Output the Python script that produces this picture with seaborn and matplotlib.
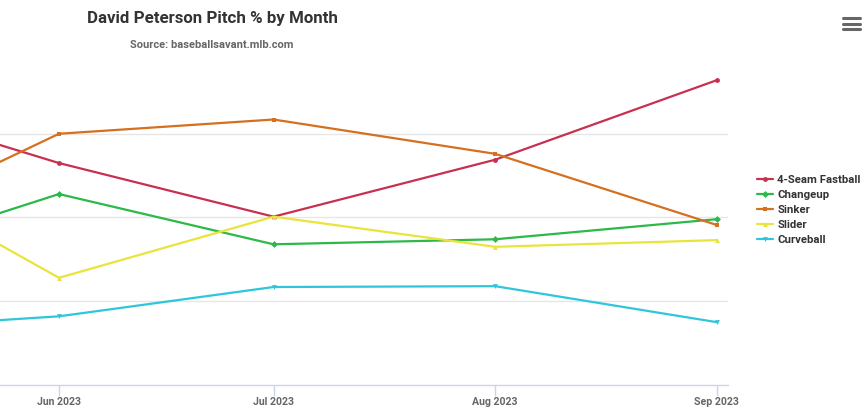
import matplotlib
matplotlib.use("Agg")
import matplotlib.pyplot as plt
import matplotlib.dates as mdates
from matplotlib.lines import Line2D
import pandas as pd
import seaborn as sns

months = ["2023-05-01", "2023-06-01", "2023-07-01", "2023-08-01", "2023-09-01"]
pitches = ["4-Seam Fastball", "Changeup", "Sinker", "Slider", "Curveball"]
fastball = [34.6, 26.5, 20.1, 26.9, 36.4]
changeup = [14.3, 22.8, 16.8, 17.4, 19.8]
sinker = [17.4, 30.0, 31.7, 27.6, 19.1]
slider = [27.6, 12.8, 20.1, 16.5, 17.3]
curveball = [6.5, 8.2, 11.7, 11.8, 7.5]

colors = {"4-Seam Fastball": "#c8304f", "Changeup": "#2db84a", "Sinker": "#d4701f",
          "Slider": "#e9e43a", "Curveball": "#2fc6dc"}
markers = {"4-Seam Fastball": "o", "Changeup": "D", "Sinker": "s",
           "Slider": "^", "Curveball": "v"}

rows = []
for name, vals in zip(pitches, [fastball, changeup, sinker, slider, curveball]):
    for m, v in zip(months, vals):
        rows.append({"month": pd.Timestamp(m), "pct": v, "pitch": name})
df = pd.DataFrame(rows)

sns.set_style("white")
plt.rcParams["font.family"] = ["Roboto", "DejaVu Sans"]

fig = plt.figure(figsize=(8.64, 4.11), dpi=100)
ax = fig.add_axes([0.0, 26 / 411, 728 / 864, 335 / 411])

sns.lineplot(data=df, x="month", y="pct", hue="pitch", style="pitch",
             hue_order=pitches, style_order=pitches, palette=colors,
             markers=markers, dashes=False, linewidth=1.6, markersize=3.5,
             markeredgewidth=0, ax=ax)

ax.set_xlim(pd.Timestamp("2023-06-01") - pd.Timedelta(days=8.25),
            pd.Timestamp("2023-09-01") + pd.Timedelta(days=1.55))
ax.set_ylim(0, 40)
ax.set_yticks([10, 20, 30])
ax.yaxis.grid(True, color="#e6e6e6", linewidth=1)
ax.tick_params(axis="y", left=False, labelleft=False)
ax.set_xticks([pd.Timestamp(m) for m in months[1:]])
ax.xaxis.set_major_formatter(mdates.DateFormatter("%b %Y"))
ax.tick_params(axis="x", bottom=True, length=8, color="#ccd6eb", width=1,
               labelsize=7.6, labelcolor="#666666", pad=0.5)
for lab in ax.get_xticklabels():
    lab.set_fontweight("bold")
ax.set_xlabel("")
ax.set_ylabel("")
for s in ["top", "right", "left"]:
    ax.spines[s].set_visible(False)
ax.spines["bottom"].set_color("#ccd6eb")
ax.spines["bottom"].set_linewidth(1)

handles, labels = ax.get_legend_handles_labels()
leg = ax.legend(handles, labels, loc="center left", bbox_to_anchor=(751 / 864, 1 - 210 / 411),
                bbox_transform=fig.transFigure, frameon=False, fontsize=8.2,
                handlelength=1.45, handletextpad=0.35, labelspacing=0.42, borderpad=0)
for t in leg.get_texts():
    t.set_fontweight("bold")
    t.set_color("#333333")

fig.text(212 / 864, 1 - 19 / 411, "David Peterson Pitch % by Month", ha="center", va="center",
         fontsize=12.2, fontweight="bold", color="#333333")
fig.text(212 / 864, 1 - 45 / 411, "Source: baseballsavant.mlb.com", ha="center", va="center",
         fontsize=8, fontweight="bold", color="#666666")

# menu icon
for yy in [18.5, 24, 29.5]:
    fig.add_artist(Line2D([843 / 864, 860 / 864], [1 - yy / 411, 1 - yy / 411],
                          color="#666666", linewidth=2.2, transform=fig.transFigure))

fig.savefig("out.png", dpi=100)
